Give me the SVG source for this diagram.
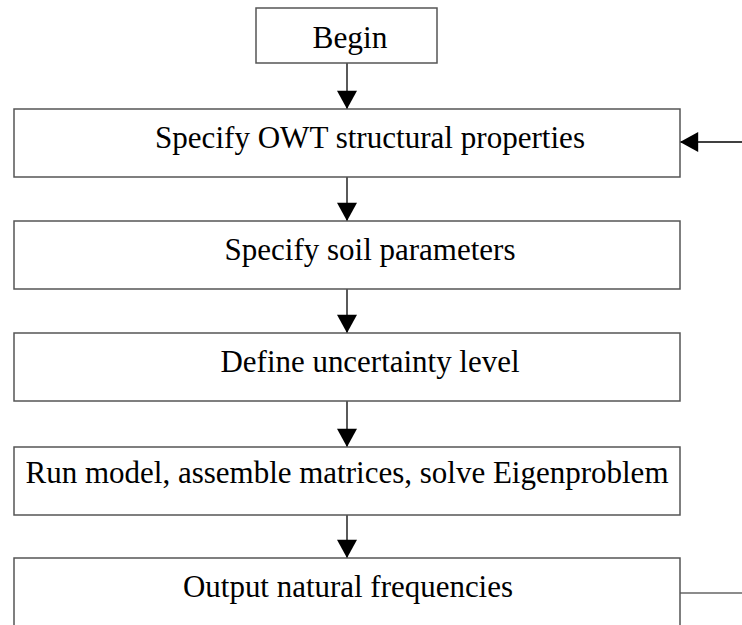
<svg xmlns="http://www.w3.org/2000/svg" width="742" height="625" viewBox="0 0 742 625">
<style>
.box{fill:#fff;stroke:#555;stroke-width:1.5}
.lbl{font-family:"Liberation Serif","Times New Roman",serif;font-size:31px;fill:#000;text-anchor:middle}
.ln{stroke:#000;stroke-width:1.3;fill:none}
.ln2{stroke:#666;stroke-width:1.5;fill:none}
</style>
<defs>
<marker id="ah" markerWidth="22" markerHeight="20" refX="20" refY="11" orient="auto" markerUnits="userSpaceOnUse" viewBox="0 0 20 22">
<path d="M0,0 L20,11 L0,22 Z" fill="#000"/>
</marker>
</defs>
<g id="connectors">
<line class="ln" x1="347" y1="63" x2="347" y2="109" marker-end="url(#ah)"/>
<line class="ln" x1="347" y1="177" x2="347" y2="221" marker-end="url(#ah)"/>
<line class="ln" x1="347" y1="289" x2="347" y2="333" marker-end="url(#ah)"/>
<line class="ln" x1="347" y1="401" x2="347" y2="447" marker-end="url(#ah)"/>
<line class="ln" x1="347" y1="515" x2="347" y2="558" marker-end="url(#ah)"/>
<line class="ln" x1="742" y1="142" x2="680" y2="142" marker-end="url(#ah)"/>
<line class="ln2" x1="680" y1="593" x2="742" y2="593"/>
</g>
<g id="begin">
<rect class="box" x="256" y="8" width="181" height="55"/>
<text class="lbl" x="350" y="48" textLength="75" lengthAdjust="spacingAndGlyphs">Begin</text>
</g>
<g id="owt">
<rect class="box" x="14" y="109" width="666" height="68"/>
<text class="lbl" x="370" y="148" textLength="430" lengthAdjust="spacingAndGlyphs">Specify OWT structural properties</text>
</g>
<g id="soil">
<rect class="box" x="14" y="221" width="666" height="68"/>
<text class="lbl" x="370" y="260" textLength="291" lengthAdjust="spacingAndGlyphs">Specify soil parameters</text>
</g>
<g id="uncertainty">
<rect class="box" x="14" y="333" width="666" height="68"/>
<text class="lbl" x="370" y="372" textLength="299" lengthAdjust="spacingAndGlyphs">Define uncertainty level</text>
</g>
<g id="run">
<rect class="box" x="14" y="447" width="666" height="68"/>
<text class="lbl" x="347" y="483" textLength="643" lengthAdjust="spacingAndGlyphs">Run model, assemble matrices, solve Eigenproblem</text>
</g>
<g id="output">
<rect class="box" x="14" y="558" width="666" height="100"/>
<text class="lbl" x="348" y="597" textLength="330" lengthAdjust="spacingAndGlyphs">Output natural frequencies</text>
</g>
</svg>
